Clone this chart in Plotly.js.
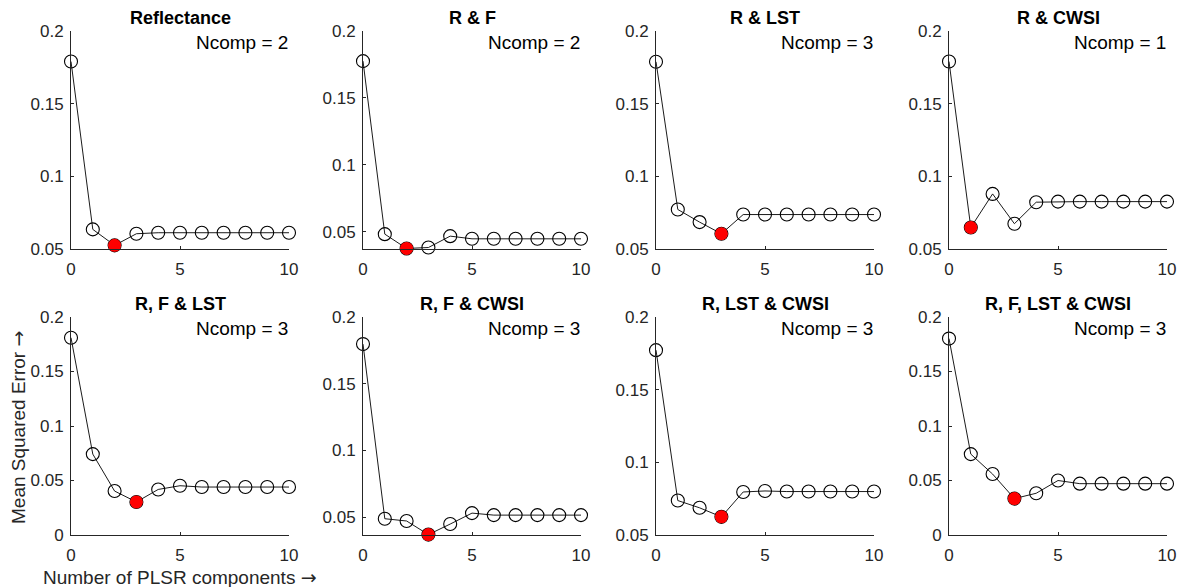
<!DOCTYPE html>
<html>
<head>
<meta charset="utf-8">
<script src="https://cdn.plot.ly/plotly-3.0.1.min.js"></script>
<style>html,body{margin:0;padding:0;background:#fff;}#chart{width:1182px;height:587px;}</style>
</head>
<body>
<div id="chart"></div>
<script>
// ---- data ----
const comps = [0,1,2,3,4,5,6,7,8,9,10];
const panelTitles = ["Reflectance","R & F","R & LST","R & CWSI","R, F & LST","R, F & CWSI","R, LST & CWSI","R, F, LST & CWSI"];
const bestComp = [2,2,3,1,3,3,3,3];
const mseReflectance = [0.179,0.0635,0.0525,0.0605,0.0612,0.0612,0.0612,0.0612,0.0612,0.0612,0.0612];
const mseRF = [0.1775,0.0483,0.0376,0.0383,0.0468,0.0448,0.0448,0.0448,0.0448,0.0448,0.0448];
const mseRLST = [0.1788,0.0772,0.0685,0.0605,0.0737,0.0737,0.0737,0.0737,0.0737,0.0737,0.0737];
const mseRCWSI = [0.179,0.0648,0.0879,0.0674,0.0822,0.0826,0.0826,0.0826,0.0826,0.0826,0.0826];
const mseRFLST = [0.181,0.0742,0.0403,0.0303,0.0418,0.0452,0.0440,0.0440,0.0440,0.0440,0.0440];
const mseRFCWSI = [0.1797,0.0488,0.0471,0.0369,0.0448,0.0530,0.0515,0.0515,0.0515,0.0515,0.0515];
const mseRLSTCWSI = [0.1772,0.0737,0.0687,0.0625,0.0796,0.0803,0.0799,0.0799,0.0799,0.0799,0.0799];
const mseRFLSTCWSI = [0.1802,0.0742,0.0559,0.0334,0.0383,0.0500,0.0471,0.0471,0.0471,0.0471,0.0471];
const mseAll = [mseReflectance,mseRF,mseRLST,mseRCWSI,mseRFLST,mseRFCWSI,mseRLSTCWSI,mseRFLSTCWSI];
const yMin = [0.05,0.0372,0.05,0.05,0,0.0366,0.05,0];
const yMax = 0.2;
const xTickVals = [0,5,10];
const yTickVals = [0,0.05,0.1,0.15,0.2];
const yTickText = ["0","0.05","0.1","0.15","0.2"];
const arrowSpan = "<span style=\"font-family:'DejaVu Sans'\">\u2192</span>";
const xLabel = "Number of PLSR components " + arrowSpan;
const yLabel = "Mean Squared Error " + arrowSpan;

// ---- layout geometry (pixels) ----
const W = 1182, H = 587;
const colLeft = [71,363,656,949];
const plotW = 218;
const rowTop = [31,317];
const plotH = 218;
const px = v => v / W;
const py = v => 1 - v / H;

const FONT = "Liberation Sans, Arial, Helvetica, sans-serif";
const axisColor = "#262626";

const traces = [];
const layout = {
  width: W, height: H, autosize: false,
  margin: {l:0,r:0,t:0,b:0},
  paper_bgcolor: "#fff", plot_bgcolor: "#fff",
  showlegend: false,
  font: {family: FONT, color: axisColor, size: 16},
  annotations: []
};

for (let i = 0; i < 8; i++) {
  const r = Math.floor(i / 4), c = i % 4;
  const xa = i === 0 ? "x" : "x" + (i + 1);
  const ya = i === 0 ? "y" : "y" + (i + 1);
  const xk = i === 0 ? "xaxis" : "xaxis" + (i + 1);
  const yk = i === 0 ? "yaxis" : "yaxis" + (i + 1);
  const L = colLeft[c], T = rowTop[r];
  const ys = mseAll[i];
  traces.push({
    x: comps, y: ys, xaxis: xa, yaxis: ya, type: "scatter", mode: "lines+markers",
    line: {color: "#000", width: 0.9},
    marker: {symbol: "circle-open", size: 13, color: "#000", line: {width: 1.1, color: "#000"}},
    cliponaxis: false, hoverinfo: "skip"
  });
  const b = bestComp[i];
  traces.push({
    x: [comps[b]], y: [ys[b]], xaxis: xa, yaxis: ya, type: "scatter", mode: "markers",
    marker: {symbol: "circle", size: 13, color: "#ff0000", line: {width: 0}},
    cliponaxis: false, hoverinfo: "skip"
  });
  layout[xk] = {
    domain: [px(L), px(L + plotW)], anchor: ya, range: [0, 10],
    tickmode: "array", tickvals: xTickVals, ticktext: xTickVals.map(String),
    ticks: "inside", ticklen: 3, tickwidth: 1, tickcolor: axisColor,
    showline: true, linecolor: axisColor, linewidth: 1,
    showgrid: false, zeroline: false, fixedrange: true,
    tickfont: {family: FONT, size: 17, color: axisColor},
    ticklabelstandoff: 5
  };
  const tv = [], tt = [];
  yTickVals.forEach((v, k) => { if (v >= yMin[i] - 1e-9) { tv.push(v); tt.push(yTickText[k]); } });
  layout[yk] = {
    domain: [py(T + plotH), py(T)], anchor: xa, range: [yMin[i], yMax],
    tickmode: "array", tickvals: tv, ticktext: tt,
    ticks: "inside", ticklen: 3, tickwidth: 1, tickcolor: axisColor,
    showline: true, linecolor: axisColor, linewidth: 1,
    showgrid: false, zeroline: false, fixedrange: true,
    tickfont: {family: FONT, size: 17, color: axisColor},
    ticklabelstandoff: 3
  };
  layout.annotations.push({
    xref: "paper", yref: "paper", x: px(L + plotW / 2), y: py(T - 13),
    xanchor: "center", yanchor: "middle", showarrow: false,
    text: "<b>" + panelTitles[i].replace(/&/g, "&amp;") + "</b>",
    font: {family: FONT, size: 18, color: "#000"}
  });
  layout.annotations.push({
    xref: "paper", yref: "paper", x: px(L + plotW + 1), y: py(T + 11),
    xanchor: "right", yanchor: "middle", showarrow: false,
    text: "Ncomp = " + bestComp[i],
    font: {family: FONT, size: 19, color: "#000"}
  });
}

layout.annotations.push({
  xref: "paper", yref: "paper", x: px(colLeft[0] + plotW / 2), y: py(577),
  xanchor: "center", yanchor: "middle", showarrow: false,
  text: xLabel, font: {family: FONT, size: 19, color: axisColor}
});
layout.annotations.push({
  xref: "paper", yref: "paper", x: px(18), y: py(rowTop[1] + plotH / 2 + 2),
  xanchor: "center", yanchor: "middle", showarrow: false, textangle: -90,
  text: yLabel, font: {family: FONT, size: 19, color: axisColor}
});

Plotly.newPlot("chart", traces, layout, {staticPlot: true, displayModeBar: false});
</script>
</body>
</html>
